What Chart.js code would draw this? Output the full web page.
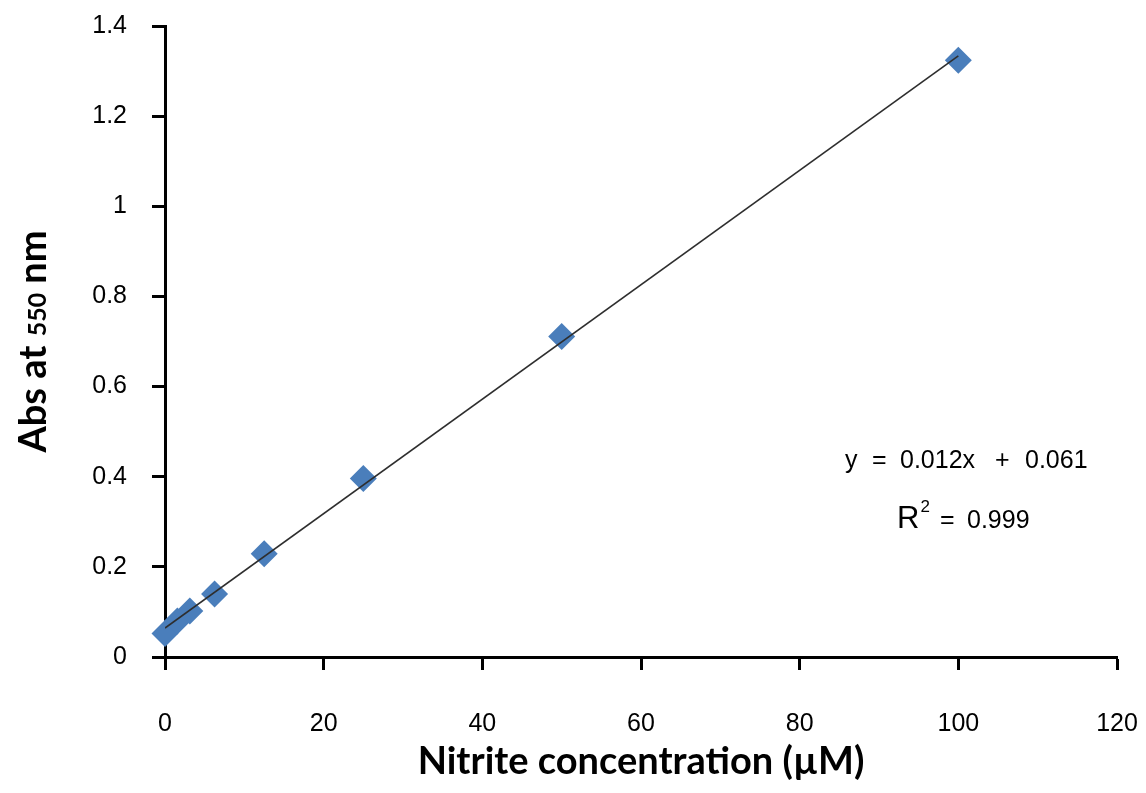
<!DOCTYPE html>
<html>
<head>
<meta charset="utf-8">
<script src="https://cdn.jsdelivr.net/npm/chart.js@4/dist/chart.umd.min.js"></script>
<style>
  html, body { margin: 0; padding: 0; background: #fff; }
  #wrap { width: 1146px; height: 793px; position: relative; }
</style>
</head>
<body>
<div id="wrap"><canvas id="calib"></canvas></div>
<script>
// 標準曲線のデータ（亜硝酸濃度 µM / 550 nm 吸光度）
const concentrations = [0, 1.5625, 3.125, 6.25, 12.5, 25, 50, 100];
const absorbance = [0.052, 0.080, 0.102, 0.140, 0.229, 0.396, 0.711, 1.324];

const xTicks = [0, 20, 40, 60, 80, 100, 120];
const yTicks = [0, 0.2, 0.4, 0.6, 0.8, 1, 1.2, 1.4];

const xTitle = 'Nitrite concentration (µM)';
const equationText = ['y', '=', '0.012x', '+', '0.061'];
const r2Text = ['R', '2', '=', '0.999'];

// 最小二乗法で近似直線
function linearFit(xs, ys) {
    const n = xs.length;
    const mx = xs.reduce((a, b) => a + b, 0) / n;
    const my = ys.reduce((a, b) => a + b, 0) / n;
    let sxy = 0, sxx = 0;
    for (let i = 0; i < n; i++) {
        sxy += (xs[i] - mx) * (ys[i] - my);
        sxx += (xs[i] - mx) * (xs[i] - mx);
    }
    const slope = sxy / sxx;
    return { slope: slope, intercept: my - slope * mx };
}

const fit = linearFit(concentrations, absorbance);
const xFirst = concentrations[0];
const xLast = concentrations[concentrations.length - 1];
const trendPoints = [
    { x: xFirst, y: fit.slope * xFirst + fit.intercept },
    { x: xLast, y: fit.slope * xLast + fit.intercept }
];

const tickFont = { family: "'Liberation Sans', Arial, sans-serif", size: 25 };

// y軸タイトル（550だけ小さい）と近似式
const textPlugin = {
    id: 'textPlugin',
    afterDraw(chart) {
        const ctx = chart.ctx;
        ctx.save();
        ctx.fillStyle = '#000';
        ctx.textBaseline = 'alphabetic';
        ctx.textAlign = 'left';

        // y軸タイトル
        const parts = [
            { t: 'Abs at ', f: "bold 38px Lato, sans-serif" },
            { t: '550', f: "bold 25px Lato, sans-serif" },
            { t: ' nm', f: "bold 38px Lato, sans-serif" }
        ];
        let total = 0;
        parts.forEach(p => { ctx.font = p.f; p.w = ctx.measureText(p.t).width; total += p.w; });
        const midY = (chart.chartArea.top + chart.chartArea.bottom) / 2;
        ctx.save();
        ctx.translate(46, midY);
        ctx.rotate(-Math.PI / 2);
        let px = -total / 2;
        parts.forEach(p => { ctx.font = p.f; ctx.fillText(p.t, px, 0); px += p.w; });
        ctx.restore();

        // 近似式
        const f25 = "25px 'Liberation Sans', Arial, sans-serif";
        ctx.font = f25;
        ctx.fillText(equationText[0], 845, 468);
        ctx.fillText(equationText[1], 872, 468);
        ctx.fillText(equationText[2], 900, 468);
        ctx.fillText(equationText[3], 995, 468);
        ctx.fillText(equationText[4], 1025, 468);

        ctx.font = "31px 'Liberation Sans', Arial, sans-serif";
        ctx.fillText(r2Text[0], 897, 528);
        const rw = ctx.measureText(r2Text[0]).width;
        ctx.font = "17px 'Liberation Sans', Arial, sans-serif";
        ctx.fillText(r2Text[1], 897 + rw + 1, 512);
        ctx.font = f25;
        ctx.fillText(r2Text[2], 940, 528);
        ctx.fillText(r2Text[3], 967, 528);
        ctx.restore();
    }
};

const ctx = document.getElementById('calib').getContext('2d');
new Chart(ctx, {
    type: 'scatter',
    data: {
        datasets: [
            {
                type: 'line',
                label: 'trend',
                data: trendPoints,
                borderColor: '#2e2e2e',
                borderWidth: 1.6,
                pointRadius: 0,
                fill: false
            },
            {
                label: 'Abs',
                data: concentrations.map((c, i) => ({ x: c, y: absorbance[i] })),
                pointStyle: 'rectRot',
                pointRadius: 13.5,
                backgroundColor: '#4a7ebb',
                borderColor: '#4a7ebb',
                borderWidth: 0,
                clip: false
            }
        ]
    },
    options: {
        responsive: true,
        maintainAspectRatio: false,
        animation: false,
        layout: {
            padding: { top: 26, right: 29, left: 0, bottom: 0 }
        },
        scales: {
            x: {
                type: 'linear',
                min: xTicks[0],
                max: xTicks[xTicks.length - 1],
                afterBuildTicks: scale => { scale.ticks = xTicks.map(v => ({ value: v })); },
                afterFit: scale => {
                    scale.height = 136;
                    // ラベル余白がチャート領域を縮めないように
                    scale.paddingLeft = 0;
                    scale.paddingRight = 0;
                },
                ticks: { color: '#000', font: tickFont, padding: 39, maxRotation: 0 },
                grid: { display: true, drawOnChartArea: false, drawTicks: true, tickLength: 13, tickWidth: 3, tickColor: '#000' },
                border: { display: true, color: '#000', width: 3 },
                title: {
                    display: true,
                    text: xTitle,
                    color: '#000',
                    font: { family: 'Lato, sans-serif', size: 38, weight: 'bold' },
                    padding: { top: 0, bottom: 8 }
                }
            },
            y: {
                type: 'linear',
                min: yTicks[0],
                max: yTicks[yTicks.length - 1],
                afterBuildTicks: scale => { scale.ticks = yTicks.map(v => ({ value: v })); },
                afterFit: scale => {
                    scale.width = 165;
                    scale.paddingTop = 0;
                    scale.paddingBottom = 0;
                },
                ticks: {
                    color: '#000',
                    font: tickFont,
                    padding: 25,
                    callback: v => String(Number(v.toFixed(1)))
                },
                grid: { display: true, drawOnChartArea: false, drawTicks: true, tickLength: 13, tickWidth: 3, tickColor: '#000' },
                border: { display: true, color: '#000', width: 3 }
            }
        },
        plugins: {
            legend: { display: false },
            tooltip: { enabled: false }
        }
    },
    plugins: [textPlugin]
});
</script>
</body>
</html>
